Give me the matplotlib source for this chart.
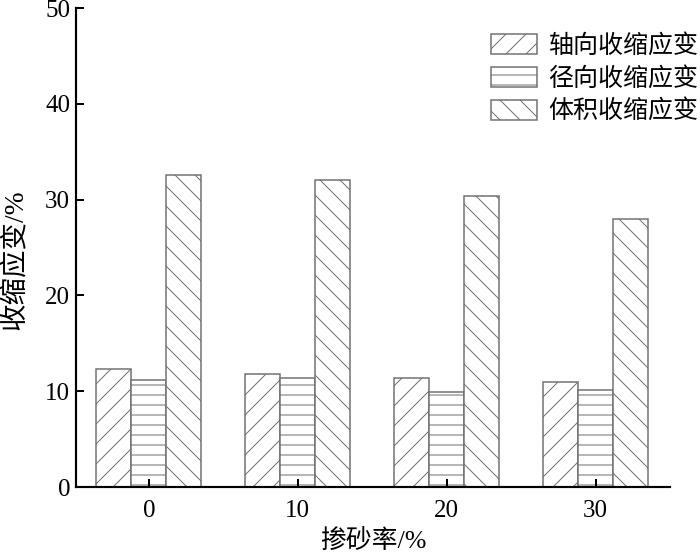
import matplotlib
matplotlib.use('Agg')
import matplotlib.pyplot as plt
import numpy as np

plt.rcParams['font.family'] = ['Liberation Serif', 'Noto Sans CJK SC']
plt.rcParams['hatch.linewidth'] = 0.6

# data
sand = [0, 10, 20, 30]
axial = [12.3, 11.8, 11.4, 11.0]
radial = [11.2, 11.4, 9.9, 10.1]
volume = [32.6, 32.0, 30.4, 28.0]
labels = ['轴向收缩应变', '径向收缩应变', '体积收缩应变']

dpi = 120
fig = plt.figure(figsize=(700 / dpi, 553 / dpi), dpi=dpi)
ax = fig.add_axes([0.1086, 0.1193, 0.8486, 0.8662])

x = np.array(sand, dtype=float)
w = 2.35
ec = '#707070'
ax.bar(x - w, axial, w, facecolor='white', edgecolor=ec, hatch='//', linewidth=0.9, label=labels[0])
ax.bar(x, radial, w, facecolor='white', edgecolor=ec, hatch='--', linewidth=0.9, label=labels[1])
ax.bar(x + w, volume, w, facecolor='white', edgecolor=ec, hatch='\\\\', linewidth=0.9, label=labels[2])

ax.set_xlim(-4.9, 35)
ax.set_ylim(0, 50)
ax.set_xticks(sand)
ax.set_yticks([0, 10, 20, 30, 40, 50])
ax.spines['top'].set_visible(False)
ax.spines['right'].set_visible(False)
ax.spines['left'].set_linewidth(1.3)
ax.spines['bottom'].set_linewidth(1.3)
ax.tick_params(axis='both', direction='in', length=5, width=1.2, labelsize=15)
ax.tick_params(axis='x', pad=8)

ax.set_xlabel('掺砂率/%', fontsize=15.5, labelpad=4)
ax.set_ylabel('收缩应变/%', fontsize=16.5)
ax.yaxis.set_label_coords(-0.08, 0.474)

leg = ax.legend(loc='upper right', bbox_to_anchor=(1.048, 0.946), frameon=False, fontsize=15,
                handlelength=1.85, handleheight=0.85, labelspacing=0.36, handletextpad=0.45,
                borderpad=0, borderaxespad=0)

fig.savefig('out.png', dpi=dpi)
